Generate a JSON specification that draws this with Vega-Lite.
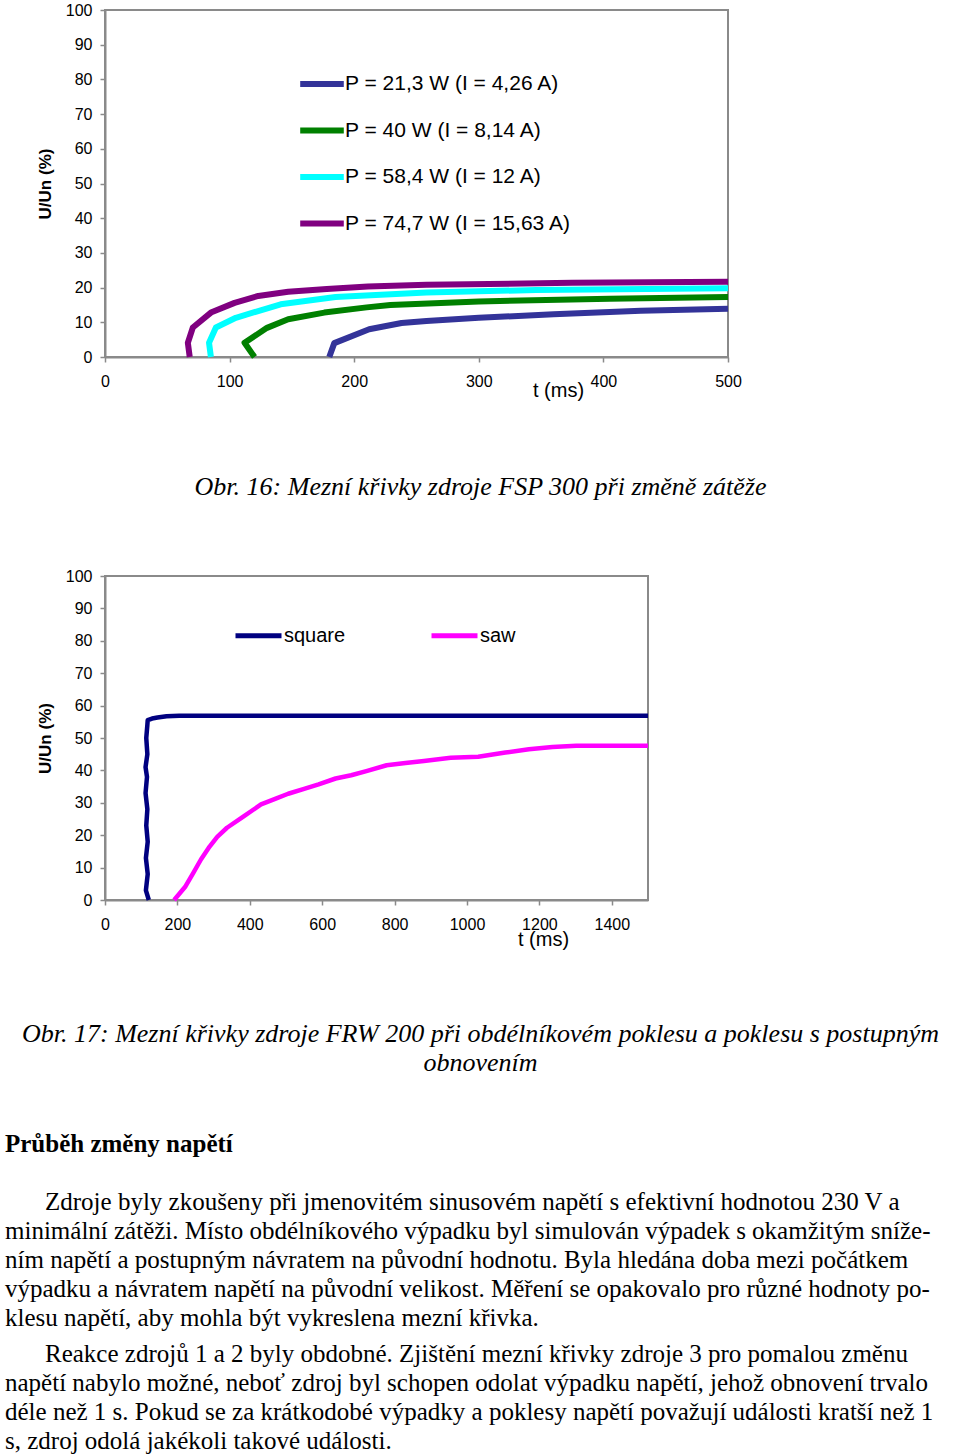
{
  "$schema": "https://vega.github.io/schema/vega-lite/v6.json",
  "background": "white",
  "padding": {"left": 5, "top": 1, "right": 0, "bottom": 0},
  "bounds": "flush",
  "spacing": 219,
  "resolve": {"scale": {"color": "independent"}, "legend": {"color": "independent"}},
  "config": {
    "font": "Liberation Sans",
    "view": {"stroke": "#8a8a8a", "strokeWidth": 2},
    "axis": {"domainColor": "#8a8a8a", "domainWidth": 2, "tickColor": "#8a8a8a", "tickWidth": 1.5, "tickSize": 5, "labelColor": "black", "labelFont": "Liberation Sans", "labelFontSize": 16, "grid": false, "titleFont": "Liberation Sans", "titleColor": "black"},
    "axisX": {"labelPadding": 11, "titleFontSize": 20, "titleFontWeight": "normal", "labelAngle": 0, "labelFlush": false, "labelOverlap": false, "format": "d"},
    "axisY": {"labelPadding": 8, "titleFontSize": 17, "titleFontWeight": "bold", "titlePadding": 11},
    "legend": {"padding": 0, "labelFont": "Liberation Sans", "labelFontSize": 20, "labelColor": "black", "labelLimit": 500}
  },
  "vconcat": [
    {
      "width": 623,
      "height": 347,
      "title": {"text": "Obr. 16: Mezní křivky zdroje FSP 300 při změně zátěže", "orient": "bottom", "anchor": "middle", "frame": "group", "dx": 64, "offset": 74, "font": "Liberation Serif", "fontStyle": "italic", "fontWeight": "normal", "fontSize": 26, "color": "black"},
      "data": {"values": [
        {"s": "P = 21,3 W (I = 4,26 A)", "i": 0, "t": 180, "u": 0},
        {"s": "P = 21,3 W (I = 4,26 A)", "i": 1, "t": 184, "u": 4},
        {"s": "P = 21,3 W (I = 4,26 A)", "i": 2, "t": 212, "u": 8},
        {"s": "P = 21,3 W (I = 4,26 A)", "i": 3, "t": 238, "u": 9.8},
        {"s": "P = 21,3 W (I = 4,26 A)", "i": 4, "t": 258, "u": 10.4},
        {"s": "P = 21,3 W (I = 4,26 A)", "i": 5, "t": 300, "u": 11.3},
        {"s": "P = 21,3 W (I = 4,26 A)", "i": 6, "t": 360, "u": 12.3},
        {"s": "P = 21,3 W (I = 4,26 A)", "i": 7, "t": 430, "u": 13.3},
        {"s": "P = 21,3 W (I = 4,26 A)", "i": 8, "t": 500, "u": 13.9},
        {"s": "P = 40 W (I = 8,14 A)", "i": 0, "t": 120, "u": 0},
        {"s": "P = 40 W (I = 8,14 A)", "i": 1, "t": 112, "u": 4.1},
        {"s": "P = 40 W (I = 8,14 A)", "i": 2, "t": 130, "u": 8.4},
        {"s": "P = 40 W (I = 8,14 A)", "i": 3, "t": 147, "u": 10.9},
        {"s": "P = 40 W (I = 8,14 A)", "i": 4, "t": 176, "u": 12.8},
        {"s": "P = 40 W (I = 8,14 A)", "i": 5, "t": 210, "u": 14.3},
        {"s": "P = 40 W (I = 8,14 A)", "i": 6, "t": 229, "u": 15},
        {"s": "P = 40 W (I = 8,14 A)", "i": 7, "t": 300, "u": 16},
        {"s": "P = 40 W (I = 8,14 A)", "i": 8, "t": 405, "u": 16.8},
        {"s": "P = 40 W (I = 8,14 A)", "i": 9, "t": 500, "u": 17.3},
        {"s": "P = 58,4 W (I = 12 A)", "i": 0, "t": 85, "u": 0},
        {"s": "P = 58,4 W (I = 12 A)", "i": 1, "t": 83.5, "u": 4.1},
        {"s": "P = 58,4 W (I = 12 A)", "i": 2, "t": 89, "u": 8.5},
        {"s": "P = 58,4 W (I = 12 A)", "i": 3, "t": 105, "u": 11.3},
        {"s": "P = 58,4 W (I = 12 A)", "i": 4, "t": 141, "u": 15.2},
        {"s": "P = 58,4 W (I = 12 A)", "i": 5, "t": 185, "u": 17.3},
        {"s": "P = 58,4 W (I = 12 A)", "i": 6, "t": 258, "u": 18.6},
        {"s": "P = 58,4 W (I = 12 A)", "i": 7, "t": 346, "u": 19.3},
        {"s": "P = 58,4 W (I = 12 A)", "i": 8, "t": 500, "u": 19.8},
        {"s": "P = 74,7 W (I = 15,63 A)", "i": 0, "t": 68, "u": 0},
        {"s": "P = 74,7 W (I = 15,63 A)", "i": 1, "t": 66.5, "u": 4.1},
        {"s": "P = 74,7 W (I = 15,63 A)", "i": 2, "t": 70.5, "u": 8.5},
        {"s": "P = 74,7 W (I = 15,63 A)", "i": 3, "t": 85, "u": 12.8},
        {"s": "P = 74,7 W (I = 15,63 A)", "i": 4, "t": 104, "u": 15.6},
        {"s": "P = 74,7 W (I = 15,63 A)", "i": 5, "t": 123, "u": 17.6},
        {"s": "P = 74,7 W (I = 15,63 A)", "i": 6, "t": 147, "u": 18.8},
        {"s": "P = 74,7 W (I = 15,63 A)", "i": 7, "t": 178, "u": 19.6},
        {"s": "P = 74,7 W (I = 15,63 A)", "i": 8, "t": 211, "u": 20.3},
        {"s": "P = 74,7 W (I = 15,63 A)", "i": 9, "t": 258, "u": 20.8},
        {"s": "P = 74,7 W (I = 15,63 A)", "i": 10, "t": 375, "u": 21.4},
        {"s": "P = 74,7 W (I = 15,63 A)", "i": 11, "t": 500, "u": 21.7}
      ]},
      "mark": {"type": "line", "strokeWidth": 6, "strokeJoin": "round"},
      "encoding": {
        "x": {"field": "t", "type": "quantitative", "scale": {"domain": [0, 500], "nice": false, "zero": false}, "axis": {"values": [0, 100, 200, 300, 400, 500], "title": "t (ms)", "titleX": 453, "titleY": 33, "titleBaseline": "middle", "titleAlign": "center", "titleAngle": 0}},
        "y": {"field": "u", "type": "quantitative", "scale": {"domain": [0, 100], "nice": false}, "axis": {"values": [0, 10, 20, 30, 40, 50, 60, 70, 80, 90, 100], "title": "U/Un (%)"}},
        "color": {"field": "s", "type": "nominal", "sort": ["P = 21,3 W (I = 4,26 A)", "P = 40 W (I = 8,14 A)", "P = 58,4 W (I = 12 A)", "P = 74,7 W (I = 15,63 A)"],
          "scale": {"domain": ["P = 21,3 W (I = 4,26 A)", "P = 40 W (I = 8,14 A)", "P = 58,4 W (I = 12 A)", "P = 74,7 W (I = 15,63 A)"], "range": ["#333399", "#008000", "#00ffff", "#800080"]},
          "legend": {"title": null, "orient": "none", "legendX": 192, "legendY": 49, "direction": "vertical", "symbolType": "stroke", "symbolSize": 1900, "symbolStrokeWidth": 6, "labelOffset": -2, "labelFontSize": 21, "rowPadding": 9.5}},
        "order": {"field": "i", "type": "quantitative"}
      }
    },
    {
      "width": 543,
      "height": 324,
      "title": {"text": ["Obr. 17: Mezní křivky zdroje FRW 200 při obdélníkovém poklesu a poklesu s postupným", "obnovením"], "orient": "bottom", "anchor": "middle", "frame": "group", "dx": 104, "offset": 72, "lineHeight": 29, "font": "Liberation Serif", "fontStyle": "italic", "fontWeight": "normal", "fontSize": 26, "color": "black"},
      "data": {"values": [
        {"s": "square", "i": 0, "t": 121, "u": 0},
        {"s": "square", "i": 1, "t": 113, "u": 3},
        {"s": "square", "i": 2, "t": 118, "u": 8},
        {"s": "square", "i": 3, "t": 113, "u": 13},
        {"s": "square", "i": 4, "t": 118, "u": 18},
        {"s": "square", "i": 5, "t": 114, "u": 23},
        {"s": "square", "i": 6, "t": 117, "u": 28},
        {"s": "square", "i": 7, "t": 112, "u": 33},
        {"s": "square", "i": 8, "t": 116, "u": 38},
        {"s": "square", "i": 9, "t": 112, "u": 41},
        {"s": "square", "i": 10, "t": 117, "u": 45},
        {"s": "square", "i": 11, "t": 114, "u": 50},
        {"s": "square", "i": 12, "t": 117, "u": 54},
        {"s": "square", "i": 13, "t": 118, "u": 55.5},
        {"s": "square", "i": 14, "t": 130, "u": 56},
        {"s": "square", "i": 15, "t": 145, "u": 56.3},
        {"s": "square", "i": 16, "t": 170, "u": 56.7},
        {"s": "square", "i": 17, "t": 205, "u": 56.9},
        {"s": "square", "i": 18, "t": 1500, "u": 56.9},
        {"s": "saw", "i": 0, "t": 191, "u": 0},
        {"s": "saw", "i": 1, "t": 221, "u": 4},
        {"s": "saw", "i": 2, "t": 244, "u": 8.4},
        {"s": "saw", "i": 3, "t": 265, "u": 12.5},
        {"s": "saw", "i": 4, "t": 289, "u": 16.5},
        {"s": "saw", "i": 5, "t": 310, "u": 19.5},
        {"s": "saw", "i": 6, "t": 337, "u": 22.3},
        {"s": "saw", "i": 7, "t": 380, "u": 25.6},
        {"s": "saw", "i": 8, "t": 431, "u": 29.5},
        {"s": "saw", "i": 9, "t": 470, "u": 31.2},
        {"s": "saw", "i": 10, "t": 506, "u": 32.8},
        {"s": "saw", "i": 11, "t": 550, "u": 34.3},
        {"s": "saw", "i": 12, "t": 590, "u": 35.7},
        {"s": "saw", "i": 13, "t": 637, "u": 37.5},
        {"s": "saw", "i": 14, "t": 680, "u": 38.5},
        {"s": "saw", "i": 15, "t": 722, "u": 39.8},
        {"s": "saw", "i": 16, "t": 778, "u": 41.6},
        {"s": "saw", "i": 17, "t": 830, "u": 42.3},
        {"s": "saw", "i": 18, "t": 881, "u": 42.9},
        {"s": "saw", "i": 19, "t": 955, "u": 43.9},
        {"s": "saw", "i": 20, "t": 1031, "u": 44.2},
        {"s": "saw", "i": 21, "t": 1106, "u": 45.5},
        {"s": "saw", "i": 22, "t": 1171, "u": 46.5},
        {"s": "saw", "i": 23, "t": 1236, "u": 47.2},
        {"s": "saw", "i": 24, "t": 1302, "u": 47.6},
        {"s": "saw", "i": 25, "t": 1500, "u": 47.6}
      ]},
      "mark": {"type": "line", "strokeWidth": 4.5, "strokeJoin": "round"},
      "encoding": {
        "x": {"field": "t", "type": "quantitative", "scale": {"domain": [0, 1500], "nice": false, "zero": false}, "axis": {"values": [0, 200, 400, 600, 800, 1000, 1200, 1400], "title": "t (ms)", "titleX": 438, "titleY": 39, "titleBaseline": "middle", "titleAlign": "center", "titleAngle": 0}},
        "y": {"field": "u", "type": "quantitative", "scale": {"domain": [0, 100], "nice": false}, "axis": {"values": [0, 10, 20, 30, 40, 50, 60, 70, 80, 90, 100], "title": "U/Un (%)"}},
        "color": {"field": "s", "type": "nominal", "sort": ["square", "saw"],
          "scale": {"domain": ["square", "saw"], "range": ["#000080", "#ff00ff"]},
          "legend": {"title": null, "orient": "none", "legendX": 128, "legendY": 34, "direction": "horizontal", "columns": 2, "symbolType": "stroke", "symbolSize": 2116, "symbolStrokeWidth": 5, "labelOffset": 0, "columnPadding": 75}},
        "order": {"field": "i", "type": "quantitative"}
      }
    },
    {
      "width": 700,
      "height": 290,
      "view": {"stroke": null},
      "data": {"values": [
        {"para": 0, "line": 0, "indent": 0, "text": "Průběh změny napětí"},
        {"para": 1, "line": 2, "indent": 1, "text": "Zdroje byly zkoušeny při jmenovitém sinusovém napětí s efektivní hodnotou 230 V a"},
        {"para": 1, "line": 3, "indent": 0, "text": "minimální zátěži. Místo obdélníkového výpadku byl simulován výpadek s okamžitým sníže-"},
        {"para": 1, "line": 4, "indent": 0, "text": "ním napětí a postupným návratem na původní hodnotu. Byla hledána doba mezi počátkem"},
        {"para": 1, "line": 5, "indent": 0, "text": "výpadku a návratem napětí na původní velikost. Měření se opakovalo pro různé hodnoty po-"},
        {"para": 1, "line": 6, "indent": 0, "text": "klesu napětí, aby mohla být vykreslena mezní křivka."},
        {"para": 2, "line": 7, "indent": 1, "text": "Reakce zdrojů 1 a 2 byly obdobné. Zjištění mezní křivky zdroje 3 pro pomalou změnu"},
        {"para": 2, "line": 8, "indent": 0, "text": "napětí nabylo možné, neboť zdroj byl schopen odolat výpadku napětí, jehož obnovení trvalo"},
        {"para": 2, "line": 9, "indent": 0, "text": "déle než 1 s. Pokud se za krátkodobé výpadky a poklesy napětí považují události kratší než 1"},
        {"para": 2, "line": 10, "indent": 0, "text": "s, zdroj odolá jakékoli takové události."}
      ]},
      "encoding": {
        "x": {"field": "indent", "type": "quantitative", "scale": {"domain": [0, 1], "range": [-100, -60]}, "axis": null},
        "y": {"field": "line", "type": "quantitative", "scale": {"domain": [0, 10], "reverse": true, "nice": false}, "axis": null},
        "text": {"field": "text", "type": "nominal"}
      },
      "layer": [
        {"transform": [{"filter": "datum.para == 0"}], "mark": {"type": "text", "align": "left", "baseline": "middle", "font": "Liberation Serif", "fontSize": 25, "fontWeight": "bold", "color": "black", "dy": 25}},
        {"transform": [{"filter": "datum.para == 1"}], "mark": {"type": "text", "align": "left", "baseline": "middle", "font": "Liberation Serif", "fontSize": 25, "color": "black", "dy": 25}},
        {"transform": [{"filter": "datum.para == 2"}], "mark": {"type": "text", "align": "left", "baseline": "middle", "font": "Liberation Serif", "fontSize": 25, "color": "black", "dy": 32}}
      ]
    }
  ]
}
